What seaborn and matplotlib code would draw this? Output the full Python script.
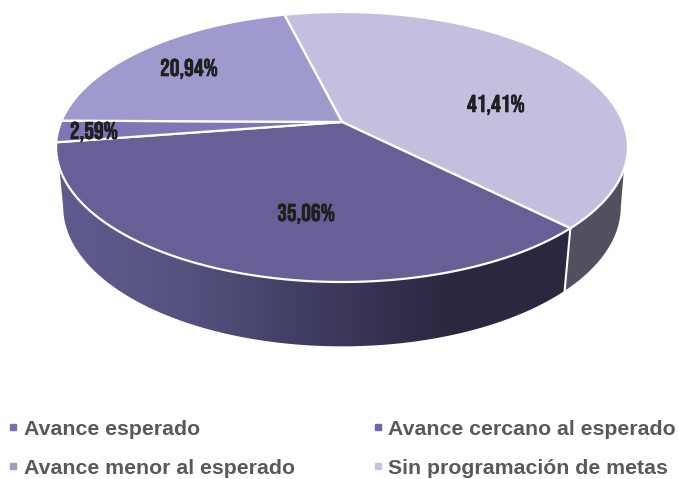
import numpy as np
import seaborn as sns
import matplotlib.pyplot as plt
import matplotlib.patheffects as pe
from matplotlib.lines import Line2D
from matplotlib.patches import Polygon

# data, clockwise from the top of the pie
values = [41.41, 35.06, 2.59, 20.94]
value_text = ["41,41%", "35,06%", "2,59%", "20,94%"]
legend_order = ["Avance esperado", "Avance cercano al esperado", "Avance menor al esperado", "Sin programación de metas"]

colors = sns.color_palette(["#C3BFDF", "#676097", "#7D78B5", "#9E9ACD"])
legend_colors = ["#7670B0", "#6E68A8", "#A09CD0", "#C8C5E3"]
label_pos = [(496, 105), (306, 214), (94, 132), (189, 69)]

sns.set_theme(style="white")
plt.rcParams["font.family"] = ["Liberation Sans", "DejaVu Sans"]

# pie geometry (pixels)
cx, cy = 342, 122
w, a, b = 281, 130.4, 0.185
depth = 59
shrink = 0.975
stretch = 1.06
start_angle = 104


def project(t, s=1.0, dy=0.0, sy=1.0):
    t = np.radians(t)
    d = 1 + b * np.sin(t)
    return cx + s * w * np.cos(t) / d, cy + dy - sy * s * a * np.sin(t) / d


def wall_poly(t0, t1, b0, b1):
    top_t = np.linspace(t0, t1, 120)
    bot_t = np.linspace(b1, b0, 120)
    xt, yt = project(top_t)
    xb, yb = project(bot_t, shrink, depth, stretch)
    return np.column_stack([np.r_[xt, xb], np.r_[yt, yb]])


fig = plt.figure(figsize=(6.78, 4.79), dpi=100)
ax = fig.add_axes([0, 0, 1, 1])

seam = start_angle - values[0] * 3.6

# side wall, the front part has a left to right gradient
left = Polygon(wall_poly(-161, seam, -169, seam), closed=True, fc="none", ec="none")
ax.add_patch(left)
grad = np.linspace(0, 1, 256)[None, :]
cmap = sns.blend_palette(["#605C90", "#55527F", "#3E3B60", "#2B2840", "#2A273E"], as_cmap=True)
img = ax.imshow(grad, extent=[55, 580, 400, 100], cmap=cmap, aspect="auto", zorder=1)
img.set_clip_path(left)

right = Polygon(wall_poly(seam, -20, seam, -11), closed=True, fc="#50505E", ec="none", zorder=1)
ax.add_patch(right)
xs0, ys0 = project(seam)
xs1, ys1 = project(seam, shrink, depth, stretch)
ax.plot([xs0, xs1], [ys0, ys1], color="white", lw=1.5, zorder=2)

# top face
angle = start_angle
for val, col in zip(values, colors):
    end = angle - val * 3.6
    xs, ys = project(np.linspace(angle, end, 150))
    pts = np.column_stack([np.r_[cx, xs], np.r_[cy, ys]])
    ax.add_patch(Polygon(pts, closed=True, fc=col, ec="white", lw=1.6, joinstyle="round", zorder=3))
    angle = end

for txt, (x, y) in zip(value_text, label_pos):
    ax.text(x, y, txt, ha="center", va="center", fontsize=17.5,
            family=["Bebas Neue", "Liberation Sans"], color="#1F1F1F", zorder=4,
            path_effects=[pe.withStroke(linewidth=0.4, foreground="#1F1F1F")])

ax.set_xlim(0, 678)
ax.set_ylim(479, 0)
ax.axis("off")

# legend, 2x2 filled column by column
handles = [Line2D([], [], ls="none", marker="s", ms=3.8, color=c, label=l)
           for c, l in zip(legend_colors, legend_order)]
order = [0, 2, 1, 3]
ax.legend([handles[i] for i in order], [legend_order[i] for i in order], ncol=2, frameon=False,
          loc="upper left", bbox_to_anchor=(0.004, 0.124), borderaxespad=0, borderpad=0,
          prop={"size": 15.3, "weight": "bold"}, labelcolor="#595959", handletextpad=0.0,
          handlelength=1.0, columnspacing=3.39, labelspacing=0.944)

fig.savefig("out.png", dpi=100)
